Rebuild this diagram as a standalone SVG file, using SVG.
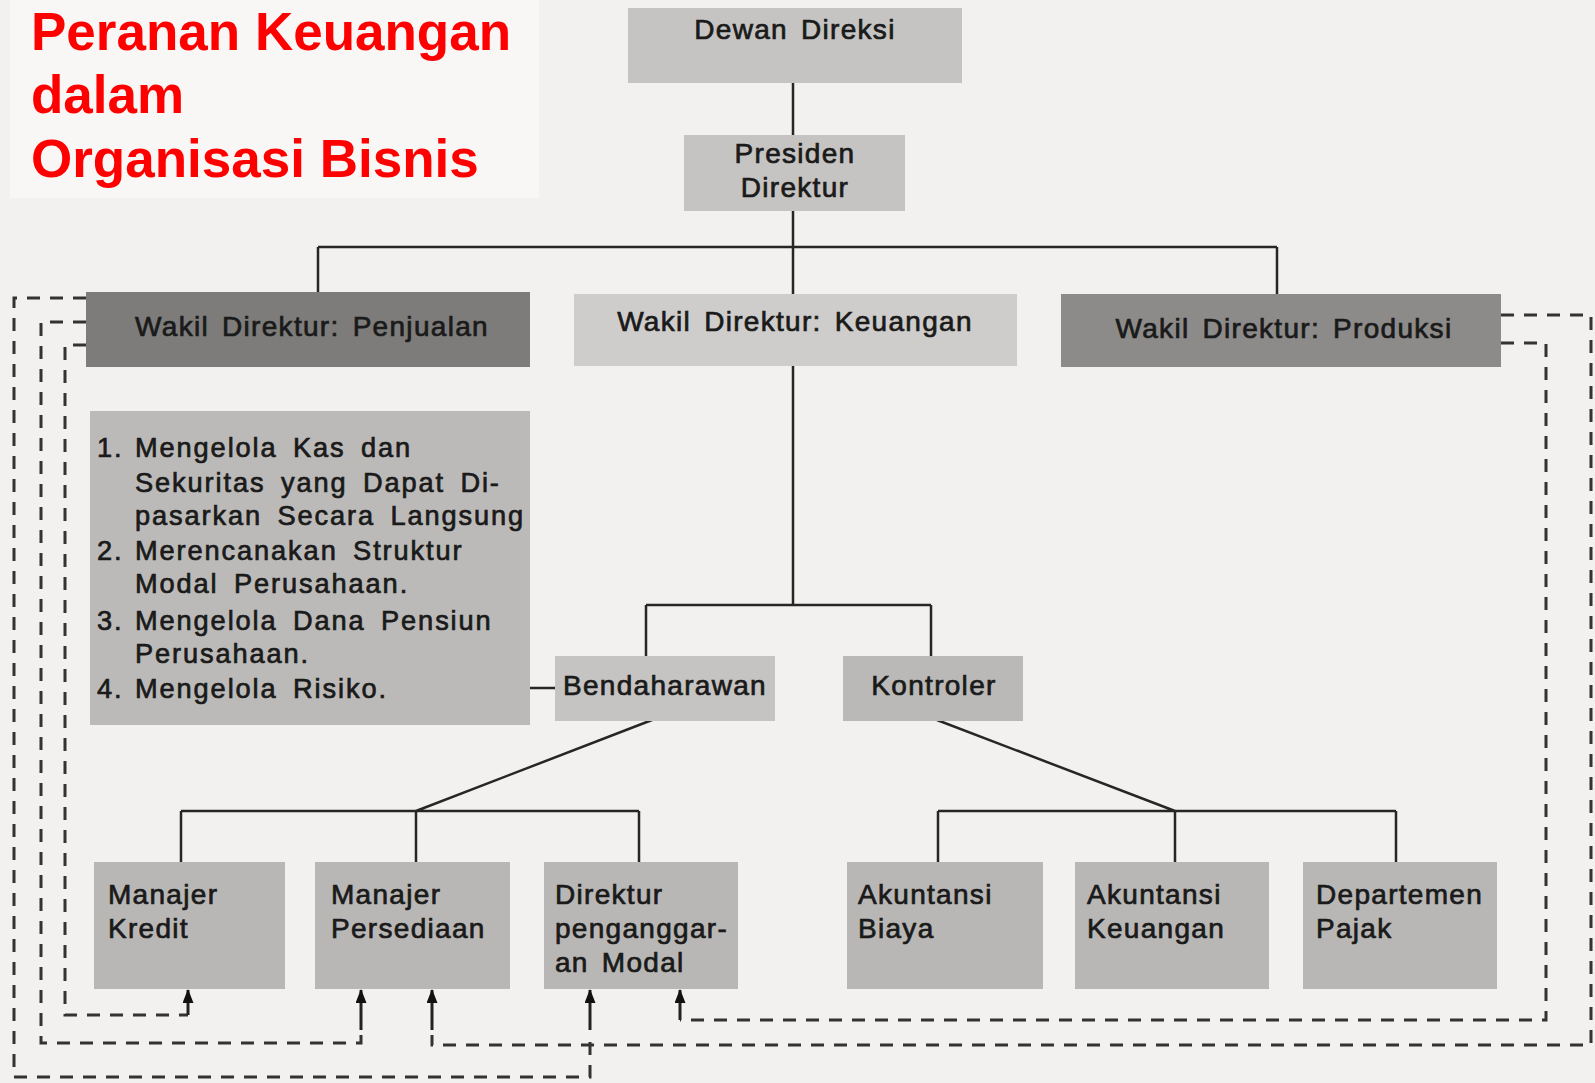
<svg xmlns="http://www.w3.org/2000/svg" width="1595" height="1083" viewBox="0 0 1595 1083">
<style>
.lbl{font-family:"Liberation Sans",Arial,sans-serif;font-size:28px;letter-spacing:1.3px;word-spacing:4px;fill:#1a1a1a;stroke:#1a1a1a;stroke-width:0.7px}
.mid{text-anchor:middle}
.list{font-family:"Liberation Sans",Arial,sans-serif;font-size:27.2px;letter-spacing:1.9px;word-spacing:6px;fill:#1a1a1a;stroke:#1a1a1a;stroke-width:0.7px}
.title{font-family:"Liberation Sans",Arial,sans-serif;font-size:53px;font-weight:bold;fill:#ff0000}
.ln{stroke:#262626;stroke-width:2.5;fill:none}
.dash{stroke:#333;stroke-width:3;fill:none;stroke-dasharray:13 10}
.stub{stroke:#222;stroke-width:3;fill:none;marker-end:url(#ah)}
.lt{fill:#c6c4c2}
.bt{fill:#b9b7b5}
</style>
<defs>
<marker id="ah" viewBox="0 0 14 11" refX="13" refY="5.5" markerWidth="14" markerHeight="11" markerUnits="userSpaceOnUse" orient="auto">
<path d="M0,0 L14,5.5 L0,11 Z" fill="#111"/>
</marker>
</defs>
<rect width="1595" height="1083" fill="#f3f1ef"/>

<g id="title">
<rect x="10" y="0" width="529" height="198" fill="#f8f7f6"/>
<text class="title" x="31" y="50">Peranan Keuangan</text>
<text class="title" x="31" y="113">dalam</text>
<text class="title" x="31" y="177">Organisasi Bisnis</text>
</g>

<g id="connectors">
<path class="ln" d="M793,83 V135 M793,211 V294 M318,247 H1277 M318,247 V292 M1277,247 V294"/>
<path class="ln" d="M793,366 V605 M646,605 H931 M646,605 V656 M931,605 V656"/>
<path class="ln" d="M530,688 H555"/>
<path class="ln" d="M652,720 L416,811 M181,811 H639 M181,811 V862 M416,811 V862 M639,811 V862"/>
<path class="ln" d="M937,720 L1175,811 M938,811 H1396 M938,811 V862 M1175,811 V862 M1396,811 V862"/>
<path class="dash" d="M86,298 H14 V1077 H590 V1036"/>
<path class="dash" d="M86,322 H41 V1043 H361 V1035"/>
<path class="dash" d="M86,345 H65 V1015 H188"/>
<path class="dash" d="M1501,315 H1591 V1045 H432 V1035"/>
<path class="dash" d="M1501,343 H1546 V1020 H680"/>
<path class="stub" d="M188,1015 V990"/>
<path class="stub" d="M361,1030 V990"/>
<path class="stub" d="M432,1030 V990"/>
<path class="stub" d="M590,1030 V990"/>
<path class="stub" d="M680,1020 V990"/>
</g>

<g id="dewan-direksi">
<rect class="lt" x="628" y="8" width="334" height="75"/>
<text class="lbl mid" x="795" y="39">Dewan Direksi</text>
</g>
<g id="presiden-direktur">
<rect class="lt" x="684" y="135" width="221" height="76"/>
<text class="lbl mid" x="795" y="163">Presiden</text>
<text class="lbl mid" x="795" y="197">Direktur</text>
</g>
<g id="wakil-penjualan">
<rect x="86" y="292" width="444" height="75" fill="#7d7c7a"/>
<text class="lbl mid" x="312" y="336">Wakil Direktur: Penjualan</text>
</g>
<g id="wakil-keuangan">
<rect x="574" y="294" width="443" height="72" fill="#cfcdcb"/>
<text class="lbl mid" x="795" y="331">Wakil Direktur: Keuangan</text>
</g>
<g id="wakil-produksi">
<rect x="1061" y="294" width="440" height="73" fill="#8c8b89"/>
<text class="lbl mid" x="1284" y="338">Wakil Direktur: Produksi</text>
</g>
<g id="tugas-bendaharawan">
<rect x="90" y="411" width="440" height="314" fill="#bcbab8"/>
<text class="list" x="97" y="457">1.</text>
<text class="list" x="135" y="457">Mengelola Kas dan</text>
<text class="list" x="135" y="492">Sekuritas yang Dapat Di-</text>
<text class="list" x="135" y="525">pasarkan Secara Langsung</text>
<text class="list" x="97" y="560">2.</text>
<text class="list" x="135" y="560">Merencanakan Struktur</text>
<text class="list" x="135" y="593">Modal Perusahaan.</text>
<text class="list" x="97" y="630">3.</text>
<text class="list" x="135" y="630">Mengelola Dana Pensiun</text>
<text class="list" x="135" y="663">Perusahaan.</text>
<text class="list" x="97" y="698">4.</text>
<text class="list" x="135" y="698">Mengelola Risiko.</text>
</g>
<g id="bendaharawan">
<rect class="lt" x="555" y="656" width="220" height="65"/>
<text class="lbl mid" x="665" y="695">Bendaharawan</text>
</g>
<g id="kontroler">
<rect x="843" y="656" width="180" height="65" fill="#bbb9b7"/>
<text class="lbl mid" x="934" y="695">Kontroler</text>
</g>
<g id="manajer-kredit">
<rect class="bt" x="94" y="862" width="191" height="127"/>
<text class="lbl" x="108" y="904">Manajer</text>
<text class="lbl" x="108" y="938">Kredit</text>
</g>
<g id="manajer-persediaan">
<rect class="bt" x="315" y="862" width="195" height="127"/>
<text class="lbl" x="331" y="904">Manajer</text>
<text class="lbl" x="331" y="938">Persediaan</text>
</g>
<g id="direktur-penganggaran">
<rect class="bt" x="544" y="862" width="194" height="127"/>
<text class="lbl" x="555" y="904">Direktur</text>
<text class="lbl" x="555" y="938">penganggar-</text>
<text class="lbl" x="555" y="972">an Modal</text>
</g>
<g id="akuntansi-biaya">
<rect class="bt" x="847" y="862" width="196" height="127"/>
<text class="lbl" x="858" y="904">Akuntansi</text>
<text class="lbl" x="858" y="938">Biaya</text>
</g>
<g id="akuntansi-keuangan">
<rect class="bt" x="1075" y="862" width="194" height="127"/>
<text class="lbl" x="1087" y="904">Akuntansi</text>
<text class="lbl" x="1087" y="938">Keuangan</text>
</g>
<g id="departemen-pajak">
<rect class="bt" x="1303" y="862" width="194" height="127"/>
<text class="lbl" x="1316" y="904">Departemen</text>
<text class="lbl" x="1316" y="938">Pajak</text>
</g>
</svg>
